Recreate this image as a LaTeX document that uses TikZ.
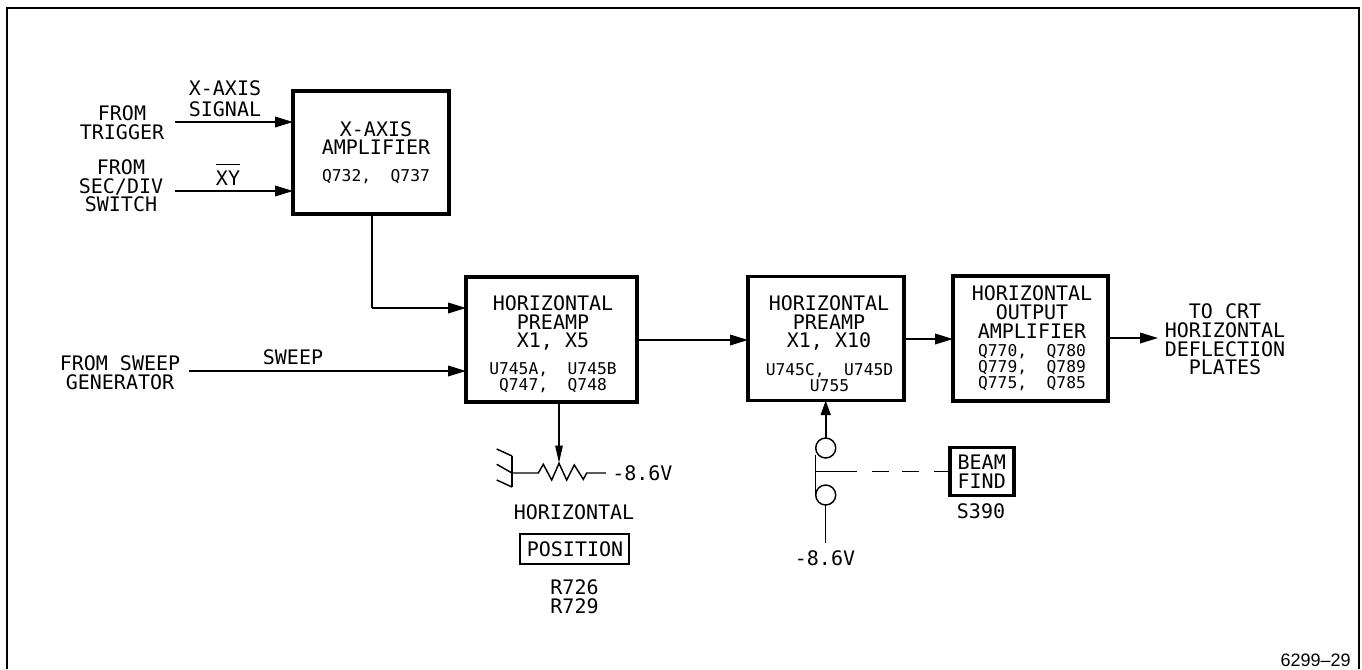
\documentclass[tikz,border=0pt]{standalone}
\usepackage{fontspec}
\setmainfont{DejaVu Sans Mono}
\newfontfamily\idfont{Liberation Sans}
\usetikzlibrary{arrows.meta}
\tikzset{
 x=0.75pt,y=-0.75pt,
 frameline/.style={line width=1.6pt},
 blk/.style={draw,line width=2.4pt,inner sep=0pt,outer sep=0pt,anchor=north west},
 lbl/.style={align=center,inner sep=0pt,font=\fontsize{15}{14}\selectfont},
 sm/.style={align=center,inner sep=0pt,font=\fontsize{12.2}{12}\selectfont},
 wire/.style={line width=1.1pt},
 thinwire/.style={line width=0.8pt},
 arr/.style={line width=1.1pt,-{Triangle[length=13.5pt,width=8pt]}},
 potarr/.style={line width=1.1pt,-{Triangle[length=13pt,width=5.5pt]}},
 swarr/.style={line width=1.4pt,-{Triangle[length=11pt,width=7.5pt]}},
 contact/.style={draw,circle,line width=1.1pt,minimum size=15pt,inner sep=0pt,outer sep=0pt},
 panel/.style={draw,line width=0.9pt,inner sep=0pt,outer sep=0pt,anchor=north west},
}
\begin{document}
\begin{tikzpicture}
\useasboundingbox (0,0) rectangle (1362,669);
\coordinate (fl) at (7,669);
\coordinate (tl) at (7,8);
\coordinate (tr) at (1359,8);
\coordinate (fr) at (1359,669);
\draw[frameline] (fl) -- (tl) -- (tr) -- (fr);
% blocks
\node[blk,minimum width=117pt,minimum height=92.25pt] (xamp) at (293,91) {};
\node[blk,minimum width=128.25pt,minimum height=93.75pt] (pre1) at (466,277) {};
\node[blk,minimum width=117pt,minimum height=93pt] (pre2) at (748,276.5) {};
\node[blk,minimum width=116.25pt,minimum height=93.75pt] (outamp) at (953,276) {};
% block texts
\node[lbl] (xampT) at (376,138) {X-AXIS\\AMPLIFIER};
\node[sm] (xampQ) at (376,177) {Q732,~~Q737};
\node[lbl] (pre1T) at (553,323) {HORIZONTAL\\PREAMP\\X1, X5};
\node[sm] (pre1Q) at (553,377.5) {U745A,~~U745B\\Q747,~~Q748};
\node[lbl] (pre2T) at (829,323) {HORIZONTAL\\PREAMP\\X1, X10};
\node[sm] (pre2Q) at (829.5,377.5) {U745C,~~U745D\\U755};
\node[lbl] (outT) at (1032,312) {HORIZONTAL\\OUTPUT\\AMPLIFIER};
\node[sm] (outQ) at (1032,368) {Q770,~~Q780\\Q779,~~Q789\\Q775,~~Q785};
% inputs
\node[lbl] (trig) at (122,123) {FROM\\TRIGGER};
\node[lbl] (sec) at (121,186) {FROM\\SEC/DIV\\SWITCH};
\node[lbl] (xsig) at (225,98.5) {X-AXIS\\[1.5pt]SIGNAL};
\node[lbl,anchor=base] (xy) at (228,185) {$\overline{\mbox{\rule{0pt}{14pt}XY}}$};
\node[lbl] (gen) at (120,372.5) {FROM SWEEP\\GENERATOR};
\node[lbl] (swp) at (293,357) {SWEEP};
\node[lbl] (crt) at (1225,339.5) {TO CRT\\HORIZONTAL\\DEFLECTION\\PLATES};
\coordinate (i1) at (175,122);
\coordinate (i2) at (175,191);
\coordinate (i3) at (189,371);
\coordinate (o1) at (1158,338);
\draw[arr] (i1) -- (i1 -| xamp.west);
\draw[arr] (i2) -- (i2 -| xamp.west);
\draw[arr] (i3) -- (i3 -| pre1.west);
\coordinate (c1) at (372,308);
\draw[thinwire] (c1 |- xamp.south) -- (c1);
\draw[arr] (c1) -- (c1 -| pre1.west);
\coordinate (m1) at (680,340);
\draw[arr] (m1 -| pre1.east) -- (m1 -| pre2.west);
\coordinate (m2) at (930,339);
\draw[arr] (m2 -| pre2.east) -- (m2 -| outamp.west);
\draw[arr] (o1 -| outamp.east) -- (o1);
% potentiometer
\coordinate (wip) at (559,463);
\draw[potarr] (wip |- pre1.south) -- (wip);
\coordinate (g1) at (512,456);
\coordinate (g2) at (512,473);
\coordinate (g3) at (512,487);
\coordinate (h1) at (496.7,449);
\coordinate (h2) at (496.7,464.3);
\coordinate (h3) at (496.7,480);
\draw[wire] (g1) -- (g3);
\draw[wire] (h1) -- (g1) (h2) -- (g2) (h3) -- (g3);
\node[lbl,anchor=west] (v1) at (612,473) {-8.6V};
\coordinate (rend) at (606,473);
\draw[wire] (g2) -- (538.3,473) -- (543.3,464.3) -- (551.7,480) -- (559,463.3) -- (566.7,480) -- (574.3,465) -- (583.3,479.3) -- (586.7,473) -- (rend);
\node[lbl] (hz) at (574,512) {HORIZONTAL};
\node[panel,minimum width=81.75pt,minimum height=22.5pt] (pos) at (520,534) {};
\node[lbl] (posT) at (575,549) {POSITION};
\node[lbl] (r) at (574.5,596.5) {R726\\R729};
% switch
\node[contact] (k1) at (825.7,448) {};
\node[contact] (k2) at (825.7,495) {};
\node[lbl] (v2) at (825,558) {-8.6V};
\coordinate (vbot) at (825.7,543);
\draw[swarr] (k1) -- (pre2.south -| k1);
\draw[wire] (k2) -- (vbot);
\coordinate (a1) at (815.3,455);
\coordinate (a2) at (815.3,495);
\coordinate (a3) at (815.3,471.5);
\draw[wire] (a1) -- (a2);
\node[blk,minimum width=48pt,minimum height=36pt] (beam) at (950,447.7) {};
\draw[wire,dash pattern=on 31pt off 11.7pt on 12.5pt off 10pt on 12.5pt off 11.5pt on 13pt] (a3) -- (a3 -| beam.west);
\node[lbl] (beamT) at (981.7,471.5) {BEAM\\FIND};
\node[lbl] (s) at (981,511) {S390};
\node[anchor=east,inner sep=0pt,font=\idfont\fontsize{13.5}{13.5}\selectfont] (id) at (1351,660) {6299–29};
\end{tikzpicture}
\end{document}
